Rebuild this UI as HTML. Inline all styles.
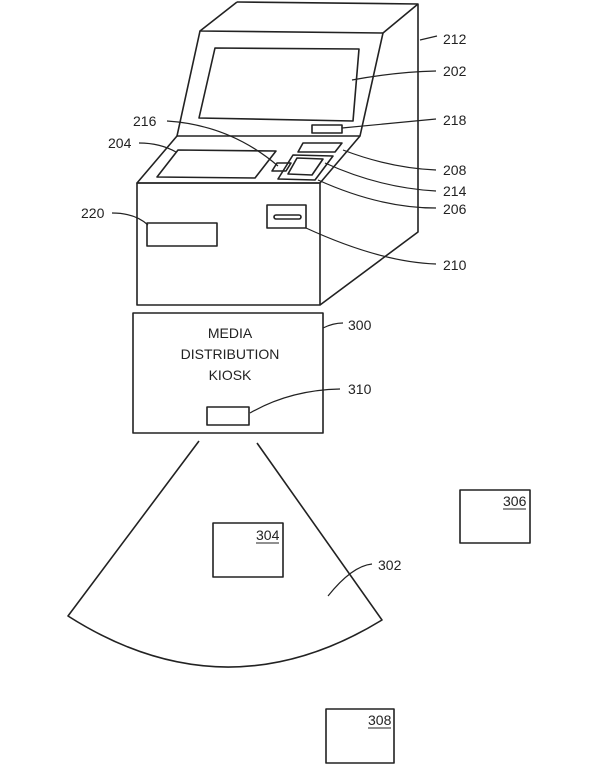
<!DOCTYPE html>
<html><head><meta charset="utf-8"><style>
html,body{margin:0;padding:0;background:#fff;}
svg{display:block;}
text{font-family:"Liberation Sans",Arial,sans-serif;font-size:14px;fill:#222;}
</style></head><body>
<svg width="600" height="766" viewBox="0 0 600 766" xmlns="http://www.w3.org/2000/svg">
<g fill="none" stroke="#222" stroke-width="1.6" stroke-linejoin="round">
<path d="M237,2 L418,4 L418,232 L320,305"/>
<path d="M237,2 L200,31 L383,33 L418,4"/>
<path d="M200,31 L177,136 L360,136 L383,33"/>
<path d="M215,48 L359,49 L353,121 L199,118 Z"/>
<path d="M177,136 L137,183 L320,183 L360,136"/>
<rect x="137" y="183" width="183" height="122"/>
<path d="M178,150 L276,151 L255,178 L157,177 Z"/>
<rect x="312" y="125" width="30" height="8"/>
<path d="M303,143 L342,143 L335,152 L298,152 Z"/>
<path d="M293,155 L333,156 L315,180 L278,179 Z"/>
<path d="M297,158 L323,159 L312,175 L288,174 Z"/>
<path d="M277,163 L291,163 L286,171 L272,171 Z"/>
<rect x="147" y="223" width="70" height="23"/>
<rect x="267" y="205" width="39" height="23"/>
<rect x="274" y="215" width="27" height="4" rx="2"/>
<g stroke-width="1.2">
<path d="M420,40 L437,36"/>
<path d="M352,80 Q395,72 436,71"/>
<path d="M342,128 L436,119"/>
<path d="M167,121 Q230,125 278,166"/>
<path d="M139,143 Q160,143 176,152"/>
<path d="M343,150 Q390,168 436,170"/>
<path d="M325,163 Q380,188 436,191"/>
<path d="M318,180 Q380,208 436,208"/>
<path d="M306,228 Q380,262 436,264"/>
<path d="M112,213 Q135,213 148,225"/>
<path d="M323,328 Q333,323 343,323"/>
<path d="M250,413 Q290,390 340,389"/>
<path d="M328,596 Q352,566 372,564"/>
</g>
<rect x="133" y="313" width="190" height="120"/>
<rect x="207" y="407" width="42" height="18"/>
<path d="M199,441 L68,616 Q225,716 382,620 L257,443"/>
<rect x="213" y="523" width="70" height="54"/>
<rect x="460" y="490" width="70" height="53"/>
<rect x="326" y="709" width="68" height="54"/>
</g>
<text x="443" y="44">212</text>
<text x="443" y="76">202</text>
<text x="443" y="125">218</text>
<text x="133" y="126">216</text>
<text x="108" y="148">204</text>
<text x="443" y="175">208</text>
<text x="443" y="196">214</text>
<text x="443" y="214">206</text>
<text x="443" y="270">210</text>
<text x="81" y="218">220</text>
<text x="348" y="330">300</text>
<text x="348" y="394">310</text>
<text x="378" y="570">302</text>
<g text-anchor="middle">
<text x="230" y="338">MEDIA</text>
<text x="230" y="359">DISTRIBUTION</text>
<text x="230" y="380">KIOSK</text>
</g>
<text x="256" y="540">304</text>
<text x="503" y="506">306</text>
<text x="368" y="725">308</text>
<g stroke="#222" stroke-width="1">
<line x1="256" y1="543" x2="279" y2="543"/>
<line x1="503" y1="509" x2="526" y2="509"/>
<line x1="368" y1="728" x2="391" y2="728"/>
</g>
</svg>
</body></html>
